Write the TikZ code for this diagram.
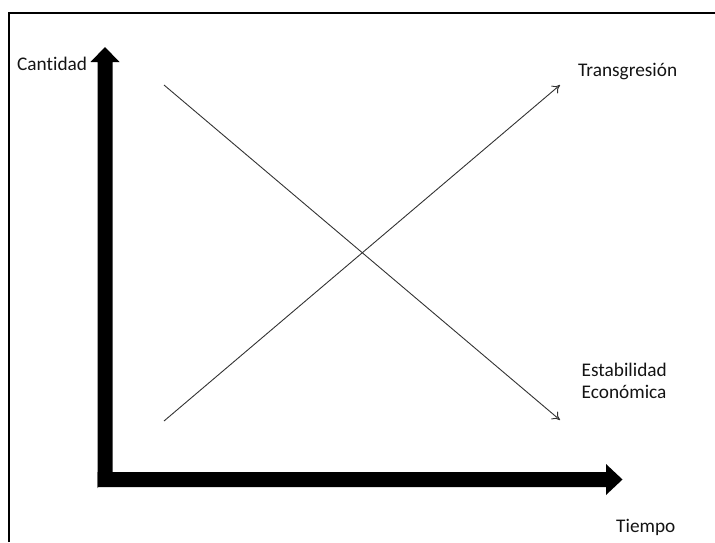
\documentclass[tikz,border=0pt]{standalone}
\usepackage{fontspec}
\setmainfont{Carlito}[Ligatures={NoCommon}]
\usetikzlibrary{arrows.meta}
\begin{document}
\begin{tikzpicture}[x=1pt,y=-1pt,
  lbl/.style={inner sep=0pt, text=black!92, font=\fontsize{19.3}{22.3}\selectfont},
  thinarrow/.style={draw=black!80, line width=0.9pt, -{To[length=7.5pt,width=10pt]}},
  axisbody/.style={fill=black, draw=none}]
\useasboundingbox (0,0) rectangle (715,542);
% frame
\draw[line width=2pt] (8.5,542) -- (8.5,13) -- (715,13);
% vertical axis
\fill[axisbody] (97.5,488) -- (97.5,62) -- (90.5,62) -- (105,47) -- (119.5,62) -- (112.5,62) -- (112.5,472) -- cycle;
% horizontal axis
\fill[axisbody] (97.5,472) -- (606,472) -- (606,464) -- (622.5,479.5) -- (606,495) -- (606,487) -- (97.5,487) -- (97.5,488) -- cycle;
% labels
\node[lbl, anchor=base west] (cant) at (17,70) {Cantidad};
\node[lbl, anchor=base west] (trans) at (578,76.5) {Transgresión};
\node[lbl, anchor=base west, align=left] (estab) at (581.5,398.3) {Estabilidad\\Económica};
\node[lbl, anchor=base west] (tiempo) at (616,532) {Tiempo};
% line endpoints
\coordinate (a1) at (164,85);
\coordinate (a2) at (560,420);
\coordinate (b1) at (164,421);
\coordinate (b2) at (560,85);
\draw[thinarrow] (a1) -- (a2);
\draw[thinarrow] (b1) -- (b2);
\end{tikzpicture}
\end{document}
